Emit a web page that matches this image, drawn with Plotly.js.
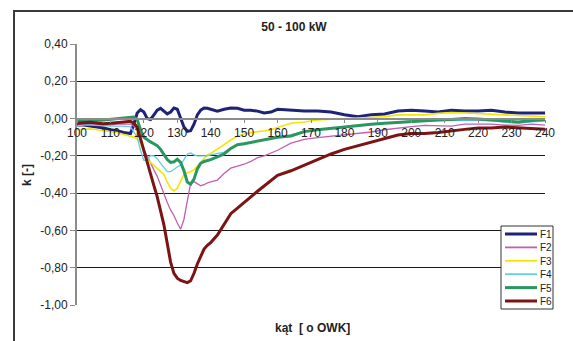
<!DOCTYPE html>
<html>
<head>
<meta charset="utf-8">
<script src="https://cdn.plot.ly/plotly-3.0.1.min.js"></script>
<style>
  html, body { margin: 0; padding: 0; background: #fff; }
  #wrap { position: relative; width: 573px; height: 341px; overflow: hidden; }
  #chart { position: absolute; left: 0; top: 0; width: 573px; height: 341px; }
  #frame { position: absolute; left: 13px; top: 10px; width: 600px; height: 400px;
           border-left: 2px solid #3a3a3a; border-top: 2px solid #3a3a3a; pointer-events: none; }
</style>
</head>
<body>
<div id="wrap"><div id="chart"></div><div id="frame"></div></div>
<script>
// ---- data ----
const chartTitle = '50 - 100 kW';
const xTitle = 'kąt  [ o OWK]';
const yTitle = 'k [-]';
const seriesNames = ['F1', 'F2', 'F3', 'F4', 'F5', 'F6'];

const angle = [100,102,104,106,108,110,112,114,116,
  117,118,119,120,121,122,123,124,125,126,127,128,129,130,131,132,133,134,135,136,137,138,139,140,
  142,144,146,148,150,152,154,156,158,160,
  164,168,172,176,180,184,188,192,196,200,204,208,212,216,220,224,228,232,236,240];

const F1 = [-0.035,-0.035,-0.04,-0.045,-0.05,-0.06,-0.065,-0.075,-0.08,
  -0.03,0.03,0.048,0.035,0.0,-0.005,0.02,0.045,0.055,0.04,0.025,0.035,0.057,0.05,0.005,-0.045,-0.068,-0.065,-0.03,0.02,0.045,0.057,0.055,0.05,
  0.04,0.05,0.057,0.055,0.045,0.045,0.04,0.03,0.035,0.05,
  0.045,0.04,0.04,0.035,0.02,0.01,0.02,0.025,0.04,0.045,0.04,0.035,0.045,0.04,0.04,0.045,0.035,0.03,0.03,0.03];

const F2 = [-0.03,-0.03,-0.03,-0.03,-0.035,-0.035,-0.03,-0.03,-0.03,
  -0.04,-0.06,-0.12,-0.17,-0.2,-0.24,-0.275,-0.31,-0.36,-0.41,-0.45,-0.49,-0.52,-0.56,-0.594,-0.54,-0.44,-0.345,-0.338,-0.35,-0.36,-0.355,-0.345,-0.34,
  -0.33,-0.295,-0.266,-0.255,-0.245,-0.23,-0.21,-0.2,-0.186,-0.17,
  -0.132,-0.112,-0.102,-0.095,-0.088,-0.082,-0.072,-0.06,-0.05,-0.043,-0.037,-0.04,-0.04,-0.03,-0.03,-0.03,-0.035,-0.037,-0.03,-0.035];

const F3 = [-0.06,-0.058,-0.055,-0.06,-0.065,-0.07,-0.075,-0.085,-0.095,
  -0.1,-0.11,-0.13,-0.18,-0.22,-0.235,-0.25,-0.265,-0.28,-0.3,-0.34,-0.374,-0.388,-0.375,-0.335,-0.3,-0.29,-0.285,-0.275,-0.255,-0.23,-0.21,-0.195,-0.187,
  -0.165,-0.14,-0.115,-0.095,-0.083,-0.075,-0.07,-0.067,-0.06,-0.048,
  -0.025,-0.018,-0.008,-0.004,0.0,0.0,0.005,0.01,0.02,0.02,0.02,0.028,0.032,0.03,0.027,0.023,0.02,0.018,0.016,0.01];

const F4 = [-0.04,-0.035,-0.035,-0.038,-0.04,-0.04,-0.04,-0.04,-0.045,
  -0.07,-0.1,-0.17,-0.225,-0.22,-0.198,-0.2,-0.215,-0.24,-0.265,-0.285,-0.285,-0.27,-0.26,-0.25,-0.22,-0.19,-0.185,-0.195,-0.2,-0.2,-0.204,-0.2,-0.195,
  -0.188,-0.18,-0.16,-0.142,-0.132,-0.125,-0.12,-0.112,-0.105,-0.098,
  -0.088,-0.068,-0.058,-0.05,-0.045,-0.04,-0.03,-0.025,-0.018,-0.013,-0.012,-0.01,-0.008,-0.008,-0.01,-0.012,-0.02,-0.025,-0.018,-0.013];

const F5 = [-0.015,-0.012,-0.01,-0.01,-0.008,-0.005,-0.003,0.0,0.005,
  0.008,-0.005,-0.06,-0.1,-0.115,-0.125,-0.135,-0.145,-0.165,-0.19,-0.22,-0.235,-0.232,-0.218,-0.235,-0.28,-0.34,-0.352,-0.325,-0.27,-0.24,-0.23,-0.225,-0.22,
  -0.205,-0.19,-0.16,-0.14,-0.135,-0.128,-0.12,-0.11,-0.105,-0.1,
  -0.093,-0.07,-0.06,-0.052,-0.045,-0.04,-0.03,-0.025,-0.02,-0.015,-0.012,-0.007,-0.005,0.0,-0.002,-0.008,-0.015,-0.018,-0.01,-0.005];

const F6 = [-0.025,-0.022,-0.02,-0.025,-0.028,-0.025,-0.02,-0.018,-0.015,
  -0.025,-0.045,-0.11,-0.17,-0.24,-0.305,-0.36,-0.42,-0.49,-0.57,-0.67,-0.77,-0.83,-0.856,-0.868,-0.875,-0.88,-0.87,-0.83,-0.78,-0.74,-0.70,-0.68,-0.665,
  -0.625,-0.565,-0.51,-0.48,-0.448,-0.42,-0.39,-0.36,-0.335,-0.305,
  -0.28,-0.25,-0.22,-0.19,-0.165,-0.145,-0.125,-0.105,-0.088,-0.08,-0.08,-0.075,-0.068,-0.058,-0.05,-0.05,-0.045,-0.05,-0.055,-0.057];

const xTickVals = [100,110,120,130,140,150,160,170,180,190,200,210,220,230,240];
const yTickVals = [-1.0,-0.8,-0.6,-0.4,-0.2,0.0,0.2,0.4];
const yTickText = ['-1,00','-0,80','-0,60','-0,40','-0,20','0,00','0,20','0,40'];

// ---- styles ----
const seriesData = [F1, F2, F3, F4, F5, F6];
const colors = ['#1f2378', '#c25fb2', '#f2e600', '#62cde3', '#2a9660', '#7d1414'];
const widths = [3, 1.3, 1.6, 1.3, 3, 3];

const traces = seriesData.map((ys, i) => ({
  x: angle, y: ys, name: seriesNames[i], type: 'scatter', mode: 'lines',
  line: { color: colors[i], width: widths[i] }
}));

const W = 573, H = 341, L = 77, R = 28, T = 44, B = 36;
const PW = W - L - R, PH = H - T - B;
const px = v => (v - L) / PW;          // pixel x -> paper x
const py = v => (H - B - v) / PH;      // pixel y -> paper y

// custom compact legend (Excel style)
const legBox = { x0: 501, x1: 553, y0: 226, y1: 309 };
const legTop = 234, legStep = 13.4;
const shapes = [{
  type: 'rect', xref: 'paper', yref: 'paper', layer: 'above',
  x0: px(legBox.x0), x1: px(legBox.x1), y0: py(legBox.y1), y1: py(legBox.y0),
  line: { color: '#333', width: 1 }, fillcolor: '#ffffff'
}];
const annotations = [
  { text: '<b>' + xTitle + '</b>', xref: 'paper', yref: 'paper',
    x: px(312), y: py(328), xanchor: 'center', yanchor: 'middle',
    showarrow: false, font: { size: 12, color: '#222' } },
  { text: '<b>' + yTitle + '</b>', xref: 'paper', yref: 'paper', textangle: -90,
    x: px(27), y: py(175), xanchor: 'center', yanchor: 'middle',
    showarrow: false, font: { size: 12, color: '#222' } }
];
seriesNames.forEach((name, i) => {
  const yy = legTop + i * legStep;
  shapes.push({ type: 'line', xref: 'paper', yref: 'paper', layer: 'above',
    x0: px(505), x1: px(537), y0: py(yy), y1: py(yy),
    line: { color: colors[i], width: Math.max(widths[i], 1.8) } });
  annotations.push({ text: name, xref: 'paper', yref: 'paper', x: px(538), y: py(yy + 0.5),
    xanchor: 'left', yanchor: 'middle', showarrow: false,
    font: { size: 10, color: '#222' } });
});

const layout = {
  width: W, height: H,
  margin: { l: L, r: R, t: T, b: B, pad: 0 },
  paper_bgcolor: '#ffffff', plot_bgcolor: '#ffffff',
  font: { family: 'Liberation Sans, Arial, sans-serif', color: '#222', size: 12 },
  showlegend: false,
  title: { text: '<b>' + chartTitle + '</b>', font: { size: 12, color: '#222' },
           xref: 'container', yref: 'container', x: 294 / W, xanchor: 'center', y: 1 - 27 / H, yanchor: 'middle' },
  xaxis: {
    range: [100, 240], tickmode: 'array', tickvals: xTickVals,
    anchor: 'free', position: 1 / 1.4,
    showgrid: false, zeroline: false,
    showline: true, linecolor: '#8c8c8c', linewidth: 2,
    ticks: 'outside', ticklen: 3, tickcolor: '#8c8c8c', tickwidth: 1,
    tickfont: { size: 12, color: '#222' }
  },
  yaxis: {
    range: [-1.0, 0.4], tickmode: 'array', tickvals: yTickVals, ticktext: yTickText,
    showgrid: true, gridcolor: '#1a1a1a', gridwidth: 1, zeroline: false,
    showline: true, linecolor: '#8c8c8c', linewidth: 2,
    ticks: 'outside', ticklen: 5, tickcolor: '#8c8c8c', tickwidth: 1,
    tickfont: { size: 12, color: '#222' }
  },
  shapes: shapes,
  annotations: annotations
};

Plotly.newPlot('chart', traces, layout, { staticPlot: true, displayModeBar: false });
</script>
</body>
</html>
